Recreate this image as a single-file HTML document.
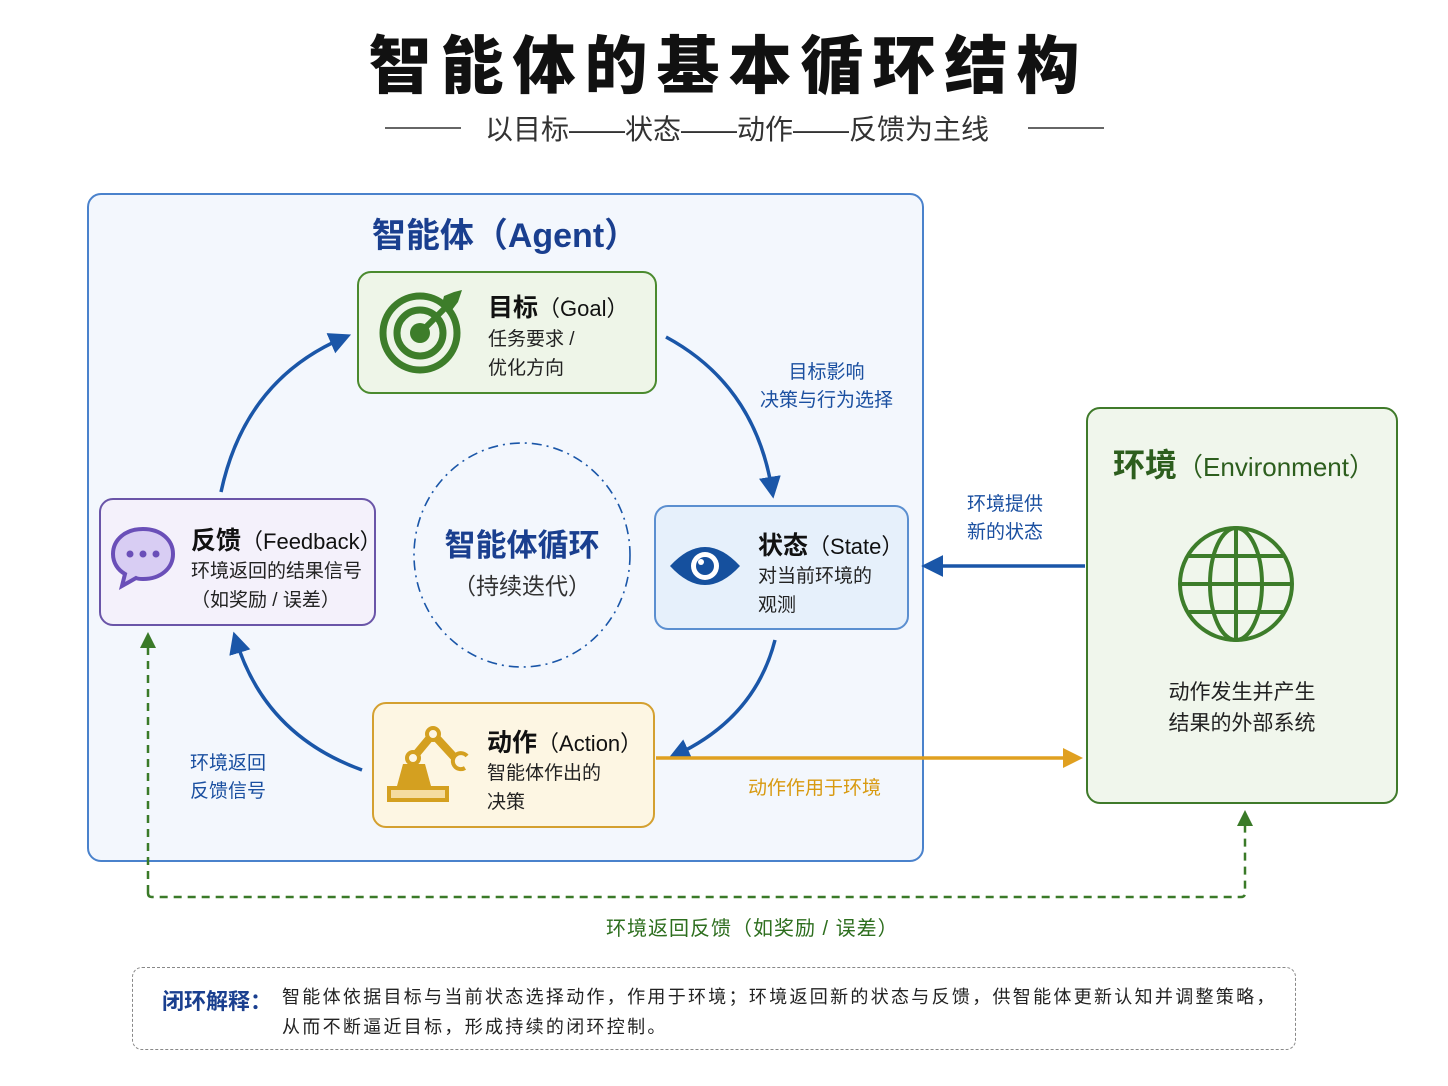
<!DOCTYPE html>
<html><head><meta charset="utf-8"><style>
body{margin:0;width:1448px;height:1086px;background:#fff;font-family:"Liberation Sans","Noto Sans CJK SC",sans-serif;position:relative;overflow:hidden}
.a{position:absolute}
.box{position:absolute;box-sizing:border-box;border-radius:14px}
.t{font-size:25px;font-weight:bold;color:#111}
.t span{font-weight:normal;font-size:22px}
.s{font-size:19px;color:#222;line-height:29px}
</style></head><body>
<div class="a" style="left:0;width:1448px;top:16px;text-align:center;font-size:63px;font-weight:900;color:#111;letter-spacing:9px;padding-left:9px;box-sizing:border-box">智能体的基本循环结构</div>
<div class="a" style="left:485px;top:108px;font-size:28px;color:#333;white-space:nowrap">以目标——状态——动作——反馈为主线</div>
<div class="a" style="left:385px;top:127px;width:76px;height:2px;background:#666"></div>
<div class="a" style="left:1028px;top:127px;width:76px;height:2px;background:#666"></div>

<div class="box" style="left:87px;top:193px;width:837px;height:669px;border:2px solid #4a82cc;background:#f3f7fd"></div>
<div class="a" style="left:300px;width:410px;top:208px;text-align:center;font-size:34px;font-weight:bold;color:#1a3f8f">智能体（Agent）</div>

<svg class="a" style="left:0;top:0" width="1448" height="1086">
<defs>
<marker id="o" viewBox="0 0 10 10" refX="6" refY="5" markerWidth="20" markerHeight="20" orient="auto" markerUnits="userSpaceOnUse"><path d="M0,0 L10,5 L0,10 z" fill="#e0a020"/></marker>
<marker id="bb" viewBox="0 0 10 10" refX="6" refY="5" markerWidth="22" markerHeight="22" orient="auto" markerUnits="userSpaceOnUse"><path d="M0,0 L10,5 L0,10 z" fill="#1a56a8"/></marker>
</defs>
<g fill="none" stroke="#1a56a8" stroke-width="3.5">
<path d="M666,337 Q755,385 772,490" marker-end="url(#bb)"/>
<path d="M775,640 Q755,718 676,755" marker-end="url(#bb)"/>
<path d="M362,770 Q265,735 236,640" marker-end="url(#bb)"/>
<path d="M221,492 Q245,380 343,338" marker-end="url(#bb)"/>
<path d="M1085,566 L930,566" marker-end="url(#bb)"/>
</g>
<path d="M656,758 L1075,758" stroke="#e0a020" stroke-width="3.5" fill="none" marker-end="url(#o)"/>
<path d="M148,893 L148,642 M148,893 Q148,897 152,897 L1241,897 Q1245,897 1245,893 L1245,820" stroke="#3a7a28" stroke-width="2.5" stroke-dasharray="8,6" fill="none"/>
<path d="M140,648 L148,632 L156,648z M1237,826 L1245,810 L1253,826z" fill="#3a7a28"/>
<ellipse cx="522" cy="555" rx="108" ry="112" fill="none" stroke="#1a56a8" stroke-width="1.6" stroke-dasharray="10,5,2,5"/>
</svg>

<div class="box" style="left:357px;top:271px;width:300px;height:123px;border:2px solid #4a8a2e;background:#eef5e8"></div>
<svg class="a" style="left:378px;top:288px" width="90" height="90"><g fill="none" stroke="#3d7d2a" stroke-width="7"><circle cx="42" cy="45" r="37"/><circle cx="42" cy="45" r="23"/></g><circle cx="42" cy="45" r="10" fill="#3d7d2a"/><path d="M42,45 L72,15" stroke="#3d7d2a" stroke-width="6"/><path d="M66,8 L76,4 L84,2 L80,14 L74,22 L64,16z" fill="#3d7d2a"/></svg>
<div class="a t" style="left:488px;top:288px">目标<span>（Goal）</span></div>
<div class="a s" style="left:488px;top:325px">任务要求 /<br>优化方向</div>

<div class="box" style="left:99px;top:498px;width:277px;height:128px;border:2px solid #6a55a8;background:#f4f1fb"></div>
<svg class="a" style="left:110px;top:525px" width="66" height="66"><path d="M33,4 C15,4 3,15 3,29 C3,38 8,45 15,49 L12,61 L26,53 C28,54 31,54 33,54 C51,54 63,43 63,29 C63,15 51,4 33,4z" fill="#d8cdf3" stroke="#6a4fb8" stroke-width="4"/><circle cx="20" cy="29" r="3.5" fill="#6a4fb8"/><circle cx="33" cy="29" r="3.5" fill="#6a4fb8"/><circle cx="46" cy="29" r="3.5" fill="#6a4fb8"/></svg>
<div class="a t" style="left:191px;top:521px">反馈<span>（Feedback）</span></div>
<div class="a s" style="left:191px;top:557px">环境返回的结果信号<br>（如奖励 / 误差）</div>

<div class="box" style="left:654px;top:505px;width:255px;height:125px;border:2px solid #5b8fd0;background:#e6f0fb"></div>
<svg class="a" style="left:668px;top:540px" width="74" height="50"><path d="M2,26 Q37,-12 72,26 Q37,64 2,26z" fill="#15509e"/><circle cx="37" cy="26" r="14" fill="#fff"/><circle cx="37" cy="26" r="9" fill="#15509e"/><circle cx="33" cy="22" r="3" fill="#fff"/></svg>
<div class="a t" style="left:758px;top:526px">状态<span>（State）</span></div>
<div class="a s" style="left:758px;top:562px">对当前环境的<br>观测</div>

<div class="box" style="left:372px;top:702px;width:283px;height:126px;border:2px solid #d4a030;background:#fdf6e3"></div>
<svg class="a" style="left:385px;top:722px" width="90" height="82"><rect x="4" y="66" width="58" height="12" fill="#f5dca0" stroke="#d4a020" stroke-width="4"/><path d="M12,64 L18,42 L40,42 L46,64z" fill="#d4a020"/><path d="M28,42 L28,36 L48,12 L70,36" stroke="#d4a020" stroke-width="8" fill="none"/><circle cx="28" cy="36" r="6" fill="#fdf6e3" stroke="#d4a020" stroke-width="4"/><circle cx="48" cy="12" r="6" fill="#fdf6e3" stroke="#d4a020" stroke-width="4"/><path d="M82,34 A8,8 0 1 0 80,46" stroke="#d4a020" stroke-width="4" fill="none"/></svg>
<div class="a t" style="left:487px;top:723px">动作<span>（Action）</span></div>
<div class="a s" style="left:487px;top:759px">智能体作出的<br>决策</div>

<div class="a" style="left:414px;width:216px;top:520px;text-align:center;font-size:31px;font-weight:bold;color:#1a3f8f">智能体循环</div>
<div class="a" style="left:414px;width:216px;top:567px;text-align:center;font-size:23px;color:#333">（持续迭代）</div>

<div class="a" style="left:760px;top:359px;font-size:19px;color:#1a4fa0;line-height:28px;text-align:center">目标影响<br>决策与行为选择</div>
<div class="a" style="left:190px;top:750px;font-size:19px;color:#1a4fa0;line-height:28px">环境返回<br>反馈信号</div>
<div class="a" style="left:967px;top:491px;font-size:19px;color:#1a4fa0;line-height:28px">环境提供<br>新的状态</div>
<div class="a" style="left:748px;top:773px;font-size:19px;color:#d89a10">动作作用于环境</div>

<div class="box" style="left:1086px;top:407px;width:312px;height:397px;border:2px solid #3f7a2a;background:#f0f6ec"></div>
<div class="a" style="left:1113px;top:440px;font-size:32px;font-weight:bold;color:#2d5e1e">环境<span style="font-size:26px;font-weight:normal">（Environment）</span></div>
<svg class="a" style="left:1175px;top:523px" width="122" height="122"><g fill="none" stroke="#3d7d2a" stroke-width="4"><circle cx="61" cy="61" r="56"/><ellipse cx="61" cy="61" rx="26" ry="56"/><line x1="61" y1="5" x2="61" y2="117"/><line x1="5" y1="61" x2="117" y2="61"/><path d="M14,33 H108 M14,89 H108"/></g></svg>
<div class="a" style="left:1086px;width:312px;top:677px;text-align:center;font-size:21px;color:#222;line-height:31px">动作发生并产生<br>结果的外部系统</div>

<div class="a" style="left:606px;top:912px;font-size:20px;color:#2d6e1e;letter-spacing:1px;white-space:nowrap">环境返回反馈（如奖励 / 误差）</div>

<div class="box" style="left:132px;top:967px;width:1164px;height:83px;border:1.5px dashed #888;border-radius:10px;background:#fff"></div>
<div class="a" style="left:162px;top:984px;font-size:22px;font-weight:bold;color:#1a3f8f">闭环解释：</div>
<div class="a" style="left:282px;top:982px;font-size:18px;color:#222;line-height:30px;letter-spacing:2.3px;white-space:nowrap">智能体依据目标与当前状态选择动作，作用于环境；环境返回新的状态与反馈，供智能体更新认知并调整策略，<br>从而不断逼近目标，形成持续的闭环控制。</div>
</body></html>
